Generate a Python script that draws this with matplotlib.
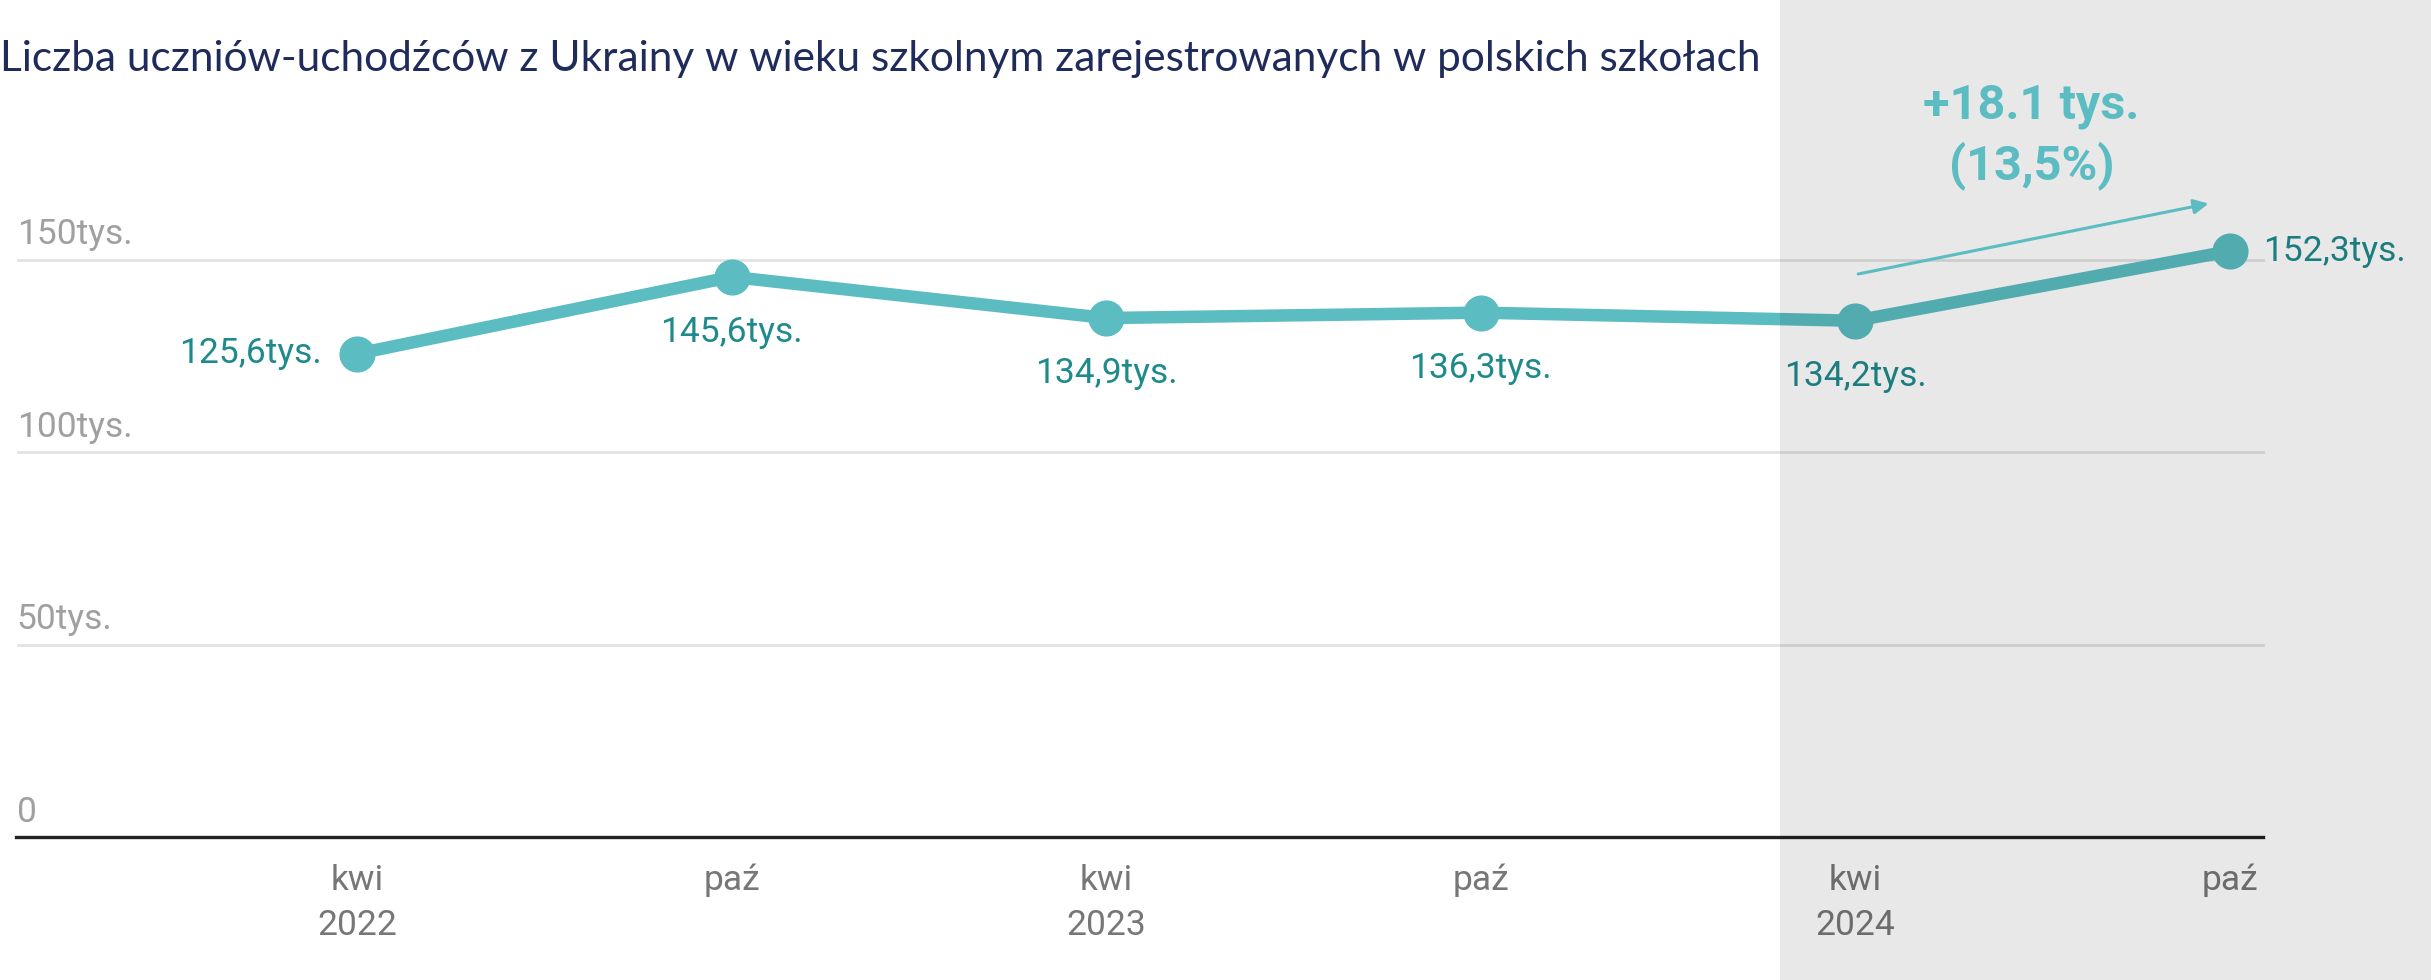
import matplotlib
matplotlib.use("Agg")
import matplotlib.pyplot as plt
from matplotlib.patches import Rectangle

# data
months = ["kwi", "paź", "kwi", "paź", "kwi", "paź"]
years = ["2022", "", "2023", "", "2024", ""]
values = [125.6, 145.6, 134.9, 136.3, 134.2, 152.3]
labels = ["125,6tys.", "145,6tys.", "134,9tys.", "136,3tys.", "134,2tys.", "152,3tys."]
yticks = [0, 50, 100, 150]
ytick_labels = ["0", "50tys.", "100tys.", "150tys."]
title = "Liczba uczniów-uchodźców z Ukrainy w wieku szkolnym zarejestrowanych w polskich szkołach"
change_text = "+18.1 tys.\n(13,5%)"

W, H = 2431, 980
LINE = "#5bbcc1"
LABEL = "#1e8a8c"

fig = plt.figure(figsize=(W / 100, H / 100), dpi=100)
ax = fig.add_axes([0, 0, 1, 1])
ax.axis("off")

# pixel layout -> data limits
x0, dx = 357, 374.6
y0, dy = 837, 3.847
ax.set_xlim(-x0 / dx, (W - x0) / dx)
ax.set_ylim(-(H - y0) / dy, y0 / dy)

xs = list(range(len(values)))
gl, gr = (18 - x0) / dx, (2263 - x0) / dx

# grid
for t, tl in zip(yticks, ytick_labels):
    if t == 0:
        ax.plot([gl - 0.005, gr], [0, 0], color="#222222", lw=2.4, zorder=2)
    else:
        ax.plot([gl, gr], [t, t], color="#e2e2e2", lw=2, zorder=1)
    ax.annotate(tl, (gl, t), xytext=(-1, 18), textcoords="offset points",
                ha="left", va="center", fontsize=25.5, color="#a0a0a0", family="Roboto")

# x labels
for x, m, yr in zip(xs, months, years):
    ax.annotate(m, (x, 0), xytext=(0, -31), textcoords="offset points",
                ha="center", va="center", fontsize=25.5, color="#777777", family="Roboto")
    if yr:
        ax.annotate(yr, (x, 0), xytext=(0, -64), textcoords="offset points",
                    ha="center", va="center", fontsize=25.5, color="#777777", family="Roboto")

# line
ax.plot(xs, values, color=LINE, lw=9, marker="o", markersize=25,
        solid_capstyle="round", zorder=3)

# value labels
for i, (x, v, lb) in enumerate(zip(xs, values, labels)):
    if i == 0:
        off, ha = (-25, 0), "right"
    elif i == len(values) - 1:
        off, ha = (24, 0), "left"
    else:
        off, ha = (0, -40), "center"
    ax.annotate(lb, (x, v), xytext=off, textcoords="offset points",
                ha=ha, va="center", fontsize=25.5, color=LABEL, family="Roboto", zorder=4)

# shaded last period (overlay)
ax.add_patch(Rectangle((1780 / W, 0), 1 - 1780 / W, 1, transform=fig.transFigure,
                       facecolor="black", alpha=0.09, lw=0, zorder=5, clip_on=False))

# change annotation
ax.annotate("", xy=(xs[5] - 0.05, values[5] + 12.5), xytext=(xs[4], values[4] + 12),
            arrowprops=dict(arrowstyle="-|>", color=LINE, lw=2.2, mutation_scale=22),
            zorder=6)
ax.text((xs[4] + xs[5]) / 2 - 0.03, values[5] + 16, change_text, ha="center", va="bottom",
        fontsize=35, fontweight="bold", color=LINE, family="Roboto",
        linespacing=1.3, zorder=6)

fig.text(0, 1 - 59 / H, title, ha="left", va="center", fontsize=30.5,
         color="#1f2b5b", family="Lato")

fig.savefig("out.png", dpi=100)
